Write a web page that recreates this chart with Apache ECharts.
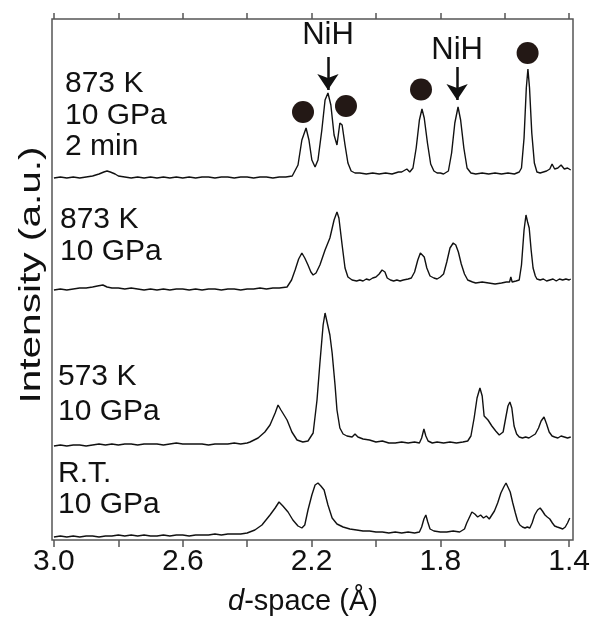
<!DOCTYPE html>
<html>
<head>
<meta charset="utf-8">
<script src="https://cdn.jsdelivr.net/npm/echarts@6/dist/echarts.min.js"></script>
<style>
  html, body { margin: 0; padding: 0; background: #fff; }
  #chart { width: 591px; height: 617px; }
</style>
</head>
<body>
<div id="chart"></div>
<script>
// d-space (Å) vs intensity, each pattern relative to its own baseline
const xTicks = [3.0, 2.8, 2.6, 2.4, 2.2, 2.0, 1.8, 1.6, 1.4];
const xLabels = [3.0, 2.6, 2.2, 1.8, 1.4];

const s873k2min = [
  [3.00,0],[2.98,1],[2.96,0],[2.94,1],[2.92,0],[2.90,1],[2.88,2],[2.86,4],[2.845,6],[2.835,7],
  [2.825,6],[2.81,4],[2.80,2],[2.78,1],[2.76,0],[2.74,1],[2.72,0],[2.70,1],[2.68,0],[2.66,1],
  [2.64,0],[2.62,1],[2.60,0],[2.58,1],[2.56,0],[2.54,1],[2.52,1],[2.50,0],[2.48,1],[2.46,1],
  [2.44,0],[2.42,1],[2.40,1],[2.38,0],[2.36,1],[2.34,1],[2.32,0],[2.30,1],[2.28,1],[2.26,2],
  [2.242,13],[2.230,38],[2.217,50],[2.208,38],[2.199,18],[2.189,11],[2.180,18],[2.168,48],
  [2.158,78],[2.149,85],[2.140,73],[2.130,43],[2.121,33],[2.112,55],[2.105,53],[2.096,33],
  [2.087,15],[2.077,7],[2.065,5],[2.05,5],[2.03,4],[2.01,5],[1.99,4],[1.97,5],[1.95,4],
  [1.93,6],[1.92,6],[1.904,9],[1.895,6],[1.885,10],[1.875,30],[1.865,58],[1.857,69],[1.85,60],
  [1.84,35],[1.83,14],[1.82,7],[1.81,5],[1.80,5],[1.79,4],[1.775,7],[1.765,25],[1.755,55],
  [1.745,71],[1.737,58],[1.727,30],[1.717,10],[1.705,5],[1.69,4],[1.67,5],[1.65,4],[1.63,5],
  [1.61,4],[1.59,5],[1.57,4],[1.555,6],[1.548,10],[1.54,40],[1.533,90],[1.528,109],[1.523,90],
  [1.516,45],[1.508,15],[1.500,6],[1.49,5],[1.48,6],[1.47,7],[1.46,9],[1.453,14],[1.445,9],
  [1.435,10],[1.425,13],[1.415,9],[1.405,10],[1.395,8]
];
const s873k = [
  [3.00,0],[2.98,1],[2.96,0],[2.94,1],[2.92,2],[2.90,2],[2.88,3],[2.865,4],[2.848,5],[2.835,3],
  [2.82,2],[2.80,2],[2.78,1],[2.76,2],[2.74,1],[2.72,0],[2.70,1],[2.68,0],[2.66,1],[2.64,0],
  [2.62,1],[2.60,1],[2.58,0],[2.56,1],[2.54,0],[2.52,1],[2.50,1],[2.48,0],[2.46,1],[2.44,1],
  [2.42,0],[2.40,1],[2.38,1],[2.36,2],[2.34,1],[2.32,2],[2.30,2],[2.276,3],[2.262,10],[2.251,20],
  [2.240,31],[2.230,37],[2.221,32],[2.211,25],[2.202,18],[2.195,15],[2.186,17],[2.174,25],
  [2.158,40],[2.143,52],[2.130,70],[2.121,78],[2.115,72],[2.105,45],[2.096,22],[2.087,13],
  [2.074,10],[2.06,9],[2.05,10],[2.04,9],[2.03,11],[2.02,10],[2.01,12],[2.00,13],[1.99,16],
  [1.981,20],[1.972,18],[1.965,12],[1.955,10],[1.945,9],[1.935,10],[1.925,9],[1.915,10],
  [1.90,11],[1.89,12],[1.88,18],[1.87,30],[1.862,37],[1.857,38],[1.85,33],[1.842,22],[1.832,14],
  [1.82,12],[1.81,11],[1.80,13],[1.79,16],[1.78,28],[1.77,42],[1.76,47],[1.752,45],[1.744,38],
  [1.735,26],[1.725,16],[1.715,10],[1.70,8],[1.69,7],[1.67,8],[1.65,7],[1.63,6],[1.61,7],
  [1.595,8],[1.585,8],[1.581,13],[1.577,8],[1.565,9],[1.555,10],[1.548,25],[1.54,60],[1.534,75],
  [1.529,68],[1.524,62],[1.518,40],[1.512,22],[1.505,14],[1.50,11],[1.49,10],[1.48,11],[1.47,9],
  [1.46,10],[1.45,11],[1.44,9],[1.43,11],[1.42,10],[1.41,11],[1.40,10],[1.395,11]
];
const s573k = [
  [3.00,0],[2.98,1],[2.96,0],[2.94,1],[2.92,1],[2.90,0],[2.88,1],[2.86,2],[2.84,1],[2.82,2],
  [2.80,1],[2.78,2],[2.76,2],[2.74,1],[2.72,2],[2.70,2],[2.68,2],[2.66,1],[2.64,2],[2.62,3],
  [2.60,2],[2.58,2],[2.56,2],[2.54,2],[2.52,1],[2.50,2],[2.48,2],[2.46,2],[2.44,3],[2.42,2],
  [2.40,3],[2.391,4],[2.366,8],[2.345,14],[2.329,21],[2.313,33],[2.304,41],[2.295,36],[2.289,38],
  [2.276,26],[2.261,14],[2.245,6],[2.227,4],[2.211,5],[2.195,13],[2.183,46],[2.174,83],
  [2.164,121],[2.158,133],[2.152,131],[2.143,111],[2.136,93],[2.127,61],[2.121,36],[2.112,18],
  [2.102,12],[2.090,10],[2.074,9],[2.065,12],[2.056,9],[2.04,7],[2.02,6],[2.00,4],[1.98,5],
  [1.96,3],[1.94,3],[1.92,4],[1.90,3],[1.88,4],[1.865,3],[1.858,8],[1.851,17],[1.845,10],
  [1.838,5],[1.825,3],[1.81,4],[1.79,3],[1.77,4],[1.75,3],[1.73,4],[1.715,5],[1.705,10],
  [1.695,28],[1.686,48],[1.677,58],[1.670,50],[1.664,30],[1.652,26],[1.640,20],[1.628,15],
  [1.617,11],[1.605,14],[1.597,28],[1.590,40],[1.584,44],[1.578,38],[1.571,20],[1.563,12],
  [1.555,9],[1.545,8],[1.535,9],[1.525,8],[1.515,10],[1.505,12],[1.495,18],[1.487,25],[1.478,29],
  [1.470,22],[1.462,14],[1.453,10],[1.445,9],[1.435,8],[1.425,10],[1.415,9],[1.405,8],[1.395,9]
];
const sRT = [
  [3.00,0],[2.98,1],[2.96,0],[2.94,1],[2.92,0],[2.90,1],[2.88,1],[2.86,0],[2.84,1],[2.82,1],
  [2.80,2],[2.78,1],[2.76,2],[2.74,1],[2.72,2],[2.70,1],[2.68,1],[2.66,2],[2.64,1],[2.62,2],
  [2.60,2],[2.58,1],[2.56,2],[2.54,2],[2.52,2],[2.50,3],[2.48,2],[2.46,3],[2.44,3],[2.42,3],
  [2.40,4],[2.376,7],[2.354,12],[2.329,22],[2.313,29],[2.301,35],[2.289,31],[2.273,25],[2.258,17],
  [2.242,11],[2.230,9],[2.221,12],[2.211,27],[2.199,42],[2.189,52],[2.180,54],[2.171,51],
  [2.161,47],[2.149,32],[2.136,19],[2.121,13],[2.102,10],[2.081,8],[2.06,7],[2.04,6],[2.02,6],
  [2.00,5],[1.98,5],[1.96,4],[1.94,5],[1.92,4],[1.90,5],[1.88,4],[1.865,5],[1.858,10],[1.851,18],
  [1.845,22],[1.839,15],[1.832,8],[1.82,6],[1.80,5],[1.78,5],[1.76,6],[1.74,5],[1.725,8],
  [1.718,14],[1.702,25],[1.693,23],[1.684,20],[1.675,22],[1.666,19],[1.657,21],[1.648,18],
  [1.640,22],[1.632,26],[1.622,34],[1.612,44],[1.603,50],[1.596,54],[1.590,52],[1.583,45],
  [1.575,34],[1.567,24],[1.560,16],[1.553,12],[1.545,10],[1.537,9],[1.530,10],[1.522,9],
  [1.515,14],[1.507,22],[1.498,27],[1.490,29],[1.483,26],[1.475,22],[1.468,20],[1.460,18],
  [1.452,14],[1.445,11],[1.437,10],[1.428,9],[1.42,8],[1.412,10],[1.405,14],[1.398,19]
];
const patterns = [s873k2min, s873k, s573k, sRT];
const offsets = [362, 250, 94, 3];

// filled circles and NiH arrows on the top pattern
const dotPeaks = [[2.2265,66],[2.093,72],[1.860,88.5],[1.529,125]];
const nihPeaks = [2.149, 1.748];
const nihArrowTop = [121, 111];
const nihArrowEnd = [88, 78];
const nihTextAt = [143, 128];

const sampleLabels = [
  { lines: ['873 K', '10 GPa', '2 min'], x: 65, y: [84, 116, 147] },
  { lines: ['873 K', '10 GPa'], x: 60, y: [220, 252] },
  { lines: ['573 K', '10 GPa'], x: 58, y: [377, 412] },
  { lines: ['R.T.', '10 GPa'], x: 58, y: [474, 505] }
];

const FONT = '"Liberation Sans", Arial, sans-serif';
const chart = echarts.init(document.getElementById('chart'));

const series = patterns.map((p, i) => ({
  type: 'line',
  data: p.map(d => [d[0], d[1] + offsets[i]]),
  showSymbol: false,
  lineStyle: { color: '#111', width: 1.4 },
  silent: true
}));

series.push({
  type: 'scatter',
  data: dotPeaks.map(d => [d[0], d[1] + offsets[0]]),
  symbolSize: 22,
  itemStyle: { color: '#231815', opacity: 1 },
  silent: true
});

series.push({
  type: 'lines',
  coordinateSystem: 'cartesian2d',
  data: nihPeaks.map((d, i) => ({
    coords: [[d, nihArrowTop[i] + offsets[0]], [d, nihArrowEnd[i] + offsets[0]]]
  })),
  symbol: ['none', 'arrow'],
  symbolSize: [13, 16],
  lineStyle: { color: '#111', width: 2.5, opacity: 1 },
  silent: true
});

series.push({
  type: 'scatter',
  data: nihPeaks.map((d, i) => [d, nihTextAt[i] + offsets[0]]),
  symbolSize: 1,
  itemStyle: { opacity: 0 },
  label: {
    show: true, position: 'inside', formatter: 'NiH',
    fontFamily: FONT, fontSize: 31, color: '#111', opacity: 1
  },
  silent: true
});

const graphics = [];
sampleLabels.forEach(s => {
  s.lines.forEach((t, k) => {
    graphics.push({
      type: 'text', x: s.x, y: s.y[k],
      style: { text: t, font: '30px ' + FONT, fill: '#111', verticalAlign: 'middle', align: 'left' }
    });
  });
});
graphics.push({
  type: 'text', x: 32, y: 275, rotation: Math.PI / 2, scaleX: 1.4,
  style: { text: 'Intensity (a.u.)', font: '29px ' + FONT, fill: '#111', align: 'center', verticalAlign: 'middle' }
});
graphics.push({
  type: 'text', x: 303, y: 602,
  style: {
    text: '{i|d}-space (Å)', font: '29px ' + FONT, fill: '#111',
    align: 'center', verticalAlign: 'middle',
    rich: { i: { fontStyle: 'italic', fontFamily: FONT, fontSize: 29, fill: '#111' } }
  }
});

const xBase = {
  type: 'value', min: 1.388, max: 3.006, inverse: true,
  axisLine: { show: false }, splitLine: { show: false }
};

chart.setOption({
  animation: false,
  grid: {
    left: 52, right: 18, top: 19, bottom: 77,
    containLabel: false, outerBoundsMode: 'none',
    show: true, borderColor: '#555', borderWidth: 1.5, backgroundColor: 'transparent'
  },
  xAxis: [
    Object.assign({}, xBase, {
      position: 'bottom',
      axisTick: { show: true, inside: false, length: 7, customValues: xTicks, lineStyle: { color: '#555', width: 1.5 } },
      axisLabel: {
        customValues: xLabels, margin: 7, fontFamily: FONT, fontSize: 30, color: '#111',
        formatter: v => v.toFixed(1)
      }
    }),
    Object.assign({}, xBase, {
      position: 'top',
      axisTick: { show: true, inside: false, length: 6, customValues: xTicks, lineStyle: { color: '#555', width: 1.5 } },
      axisLabel: { show: false }
    })
  ],
  yAxis: { type: 'value', min: 0, max: 521, show: false },
  graphic: graphics,
  series: series
});
</script>
</body>
</html>
